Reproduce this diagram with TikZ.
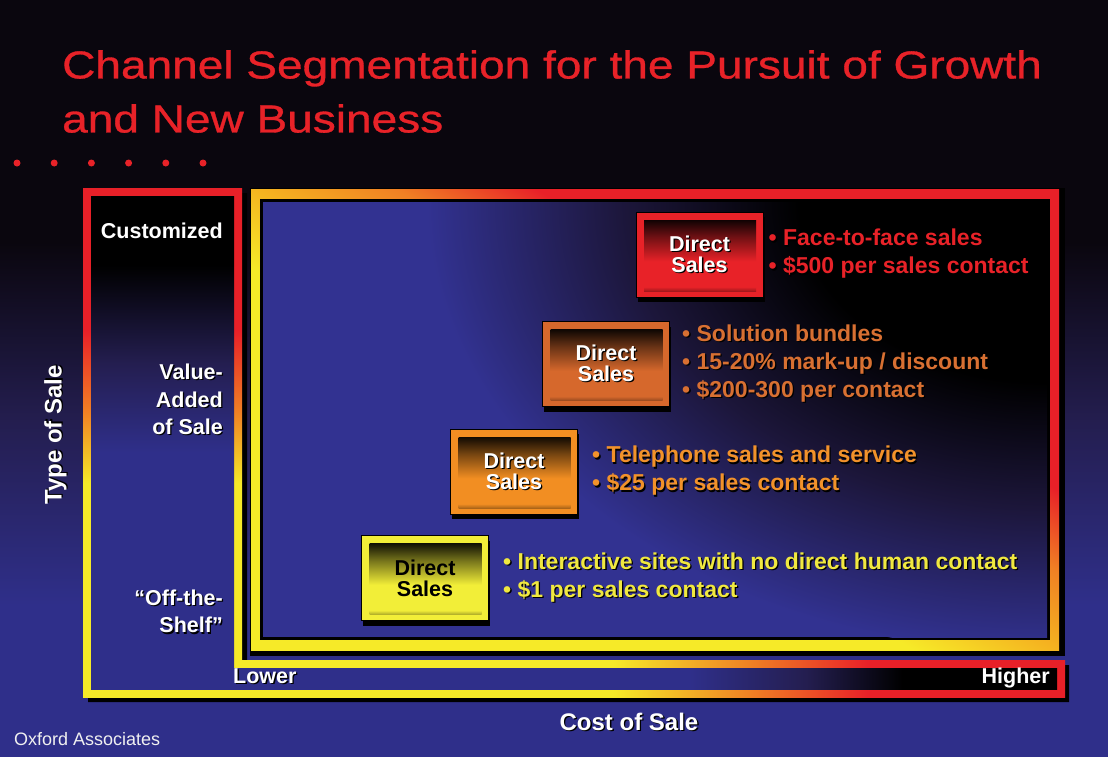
\documentclass[tikz,border=0pt]{standalone}
\usepackage{fontspec}
\setmainfont{Liberation Sans}
\newfontfamily\headfont[FakeStretch=1.18,FakeBold=0.8]{Liberation Sans}
\usetikzlibrary{positioning,shadows}

\definecolor{bgblue}{RGB}{47,47,138}
\definecolor{bgmid}{RGB}{36,30,80}
\definecolor{bgdark}{RGB}{10,6,14}
\definecolor{fillblue}{RGB}{50,50,145}
\definecolor{cornermid}{RGB}{28,22,58}
\definecolor{frameyellow}{RGB}{246,234,40}
\definecolor{frameamber}{RGB}{245,180,32}
\definecolor{frameorange}{RGB}{240,128,36}
\definecolor{framered}{RGB}{232,32,40}
\definecolor{slidered}{RGB}{232,34,40}
\definecolor{burnt}{RGB}{214,104,44}
\definecolor{amber}{RGB}{242,142,34}
\definecolor{lemon}{RGB}{242,238,56}
\definecolor{burnttext}{RGB}{216,112,50}
\definecolor{ambertext}{RGB}{242,146,42}
\definecolor{lemontext}{RGB}{240,232,64}
\colorlet{boxcol}{slidered}

\pgfdeclareverticalshading{slidebg}{100bp}{color(0bp)=(bgblue); color(35bp)=(bgblue); color(47bp)=(bgmid); color(59bp)=(bgdark); color(100bp)=(bgdark)}
\pgfdeclareverticalshading{barstroke}{100bp}{color(0bp)=(frameyellow); color(46bp)=(frameyellow); color(53bp)=(frameorange); color(61bp)=(framered); color(100bp)=(framered)}
\pgfdeclarehorizontalshading{basestroke}{100bp}{color(0bp)=(frameyellow); color(52bp)=(frameyellow); color(59bp)=(frameorange); color(65bp)=(framered); color(100bp)=(framered)}
\pgfdeclareverticalshading{barfill}{100bp}{color(0bp)=(bgblue); color(49bp)=(bgblue); color(58bp)=(bgmid); color(68bp)=(black); color(100bp)=(black)}
\pgfdeclarehorizontalshading{basefill}{100bp}{color(0bp)=(bgblue); color(56bp)=(bgblue); color(62bp)=(bgmid); color(67bp)=(black); color(100bp)=(black)}
\pgfdeclarehorizontalshading{framediag}{100bp}{color(0bp)=(frameyellow); color(44bp)=(frameyellow); color(50bp)=(frameamber); color(56bp)=(frameorange); color(62bp)=(framered); color(100bp)=(framered)}
\pgfdeclareradialshading{cornerdark}{\pgfpoint{0bp}{0bp}}{color(0bp)=(black); color(10bp)=(black); color(17bp)=(cornermid); color(25bp)=(fillblue); color(50bp)=(fillblue)}
\pgfdeclareverticalshading[boxcol]{boxgrad}{100bp}{color(0bp)=(boxcol!30!black); color(25bp)=(boxcol!30!black); color(31bp)=(boxcol); color(46bp)=(boxcol); color(60bp)=(boxcol!50!black); color(72bp)=(black); color(100bp)=(black)}

\newcommand{\shd}[1]{\leavevmode\rlap{\kern1.3pt\raisebox{-1.3pt}{\color{black}#1}}#1}

\tikzset{
  salesbox/.style={draw=black, line width=1pt, fill=#1, minimum width=127pt, minimum height=85pt,
    inner sep=0pt, align=center, text=white, font=\bfseries\fontsize{21.5}{21}\selectfont,
    execute at begin node={\rule{0pt}{26pt}},
    drop shadow={shadow xshift=1.5pt, shadow yshift=-5pt, fill=black, opacity=1},
    path picture={\colorlet{boxcol}{#1}
      \shade[shading=boxgrad]
        ([xshift=8pt,yshift=-8pt]path picture bounding box.north west) rectangle
        ([xshift=-7pt,yshift=6pt]path picture bounding box.south east);}},
  bullets/.style={text=#1, align=left, inner sep=0pt, font=\bfseries\fontsize{23}{28}\selectfont},
  axislabel/.style={text=white, inner sep=0pt, font=\bfseries\fontsize{21.5}{27.5}\selectfont}
}

\begin{document}
\begin{tikzpicture}[x=1pt, y=-1pt]
  \useasboundingbox (0,0) rectangle (1108,756);
  \shade[shading=slidebg] (0,0) rectangle (1108,756);

  \node[anchor=north west, inner sep=0pt, align=left, text=slidered,
    font=\headfont\fontsize{39}{54}\selectfont] (title) at (62,50)
    {Channel Segmentation for the Pursuit of Growth\\and New Business};
  \foreach \i in {0,...,5}
    \fill[slidered] ({17+37.2*\i},163) circle (3.5pt);

  \fill[black] (88,193) -- (247,193) -- (247,665) -- (1069,665) -- (1069,702) -- (88,702) -- cycle;
  \shade[shading=barstroke] (83,188) rectangle (242,697);
  \shade[shading=basestroke] (83,660) rectangle (1065,697);
  \shade[shading=barfill] (91,196) rectangle (234,689);
  \shade[shading=basefill] (91,668) rectangle (1057,689);

  \fill[black] (250,188) rectangle (1065,656);
  \shade[shading=framediag, shading angle=60] (251,189) rectangle (1059,650);
  \fill[black] (260,199) rectangle (1050,640);
  \fill[fillblue] (263,202) rectangle (1047,637);
  \begin{scope}
    \clip (263,202) rectangle (1047,637);
    \shade[shading=cornerdark] (1047,202) ellipse (620 and 450);
  \end{scope}

  \node[salesbox=lemon, text=black] (web) at (425,578) {Direct\\Sales};
  \node[salesbox=amber] (phone) at (514,471.5) {\shd{Direct}\\\shd{Sales}};
  \node[salesbox=burnt] (bundle) at (606,364) {\shd{Direct}\\\shd{Sales}};
  \node[salesbox=slidered] (field) at (699.5,254.5) {\shd{Direct}\\\shd{Sales}};

  \node[bullets=slidered, right=5pt of field] (fieldtxt)
    {\shd{• Face-to-face sales}\\\shd{• \$500 per sales contact}};
  \node[bullets=burnttext, right=12pt of bundle] (bundletxt)
    {\shd{• Solution bundles}\\\shd{• 15-20\% mark-up / discount}\\\shd{• \$200-300 per contact}};
  \node[bullets=ambertext, right=14pt of phone] (phonetxt)
    {\shd{• Telephone sales and service}\\\shd{• \$25 per sales contact}};
  \node[bullets=lemontext, right=14pt of web] (webtxt)
    {\shd{• Interactive sites with no direct human contact}\\\shd{• \$1 per sales contact}};

  \node[axislabel, anchor=east] (custom) at (223,231) {\shd{Customized}};
  \node[axislabel, anchor=east, align=right] (valadd) at (223,400) {\shd{Value-}\\\shd{Added}\\\shd{of Sale}};
  \node[axislabel, anchor=east, align=right] (shelf) at (223,612) {\shd{“Off-the-}\\\shd{Shelf”}};
  \node[axislabel, font=\bfseries\fontsize{24}{28}\selectfont, rotate=90] (typeaxis) at (56,435) {\shd{Type of Sale}};

  \node[axislabel, anchor=base west] (lower) at (233,683) {\shd{Lower}};
  \node[axislabel, anchor=base east] (higher) at (1050,683) {\shd{Higher}};
  \node[axislabel, font=\bfseries\fontsize{24}{28}\selectfont, anchor=base] (costaxis) at (629,730) {\shd{Cost of Sale}};
  \node[anchor=base west, inner sep=0pt, text=white!88!gray, font=\fontsize{18}{20}\selectfont] (credit) at (14,745) {Oxford Associates};
\end{tikzpicture}
\end{document}
